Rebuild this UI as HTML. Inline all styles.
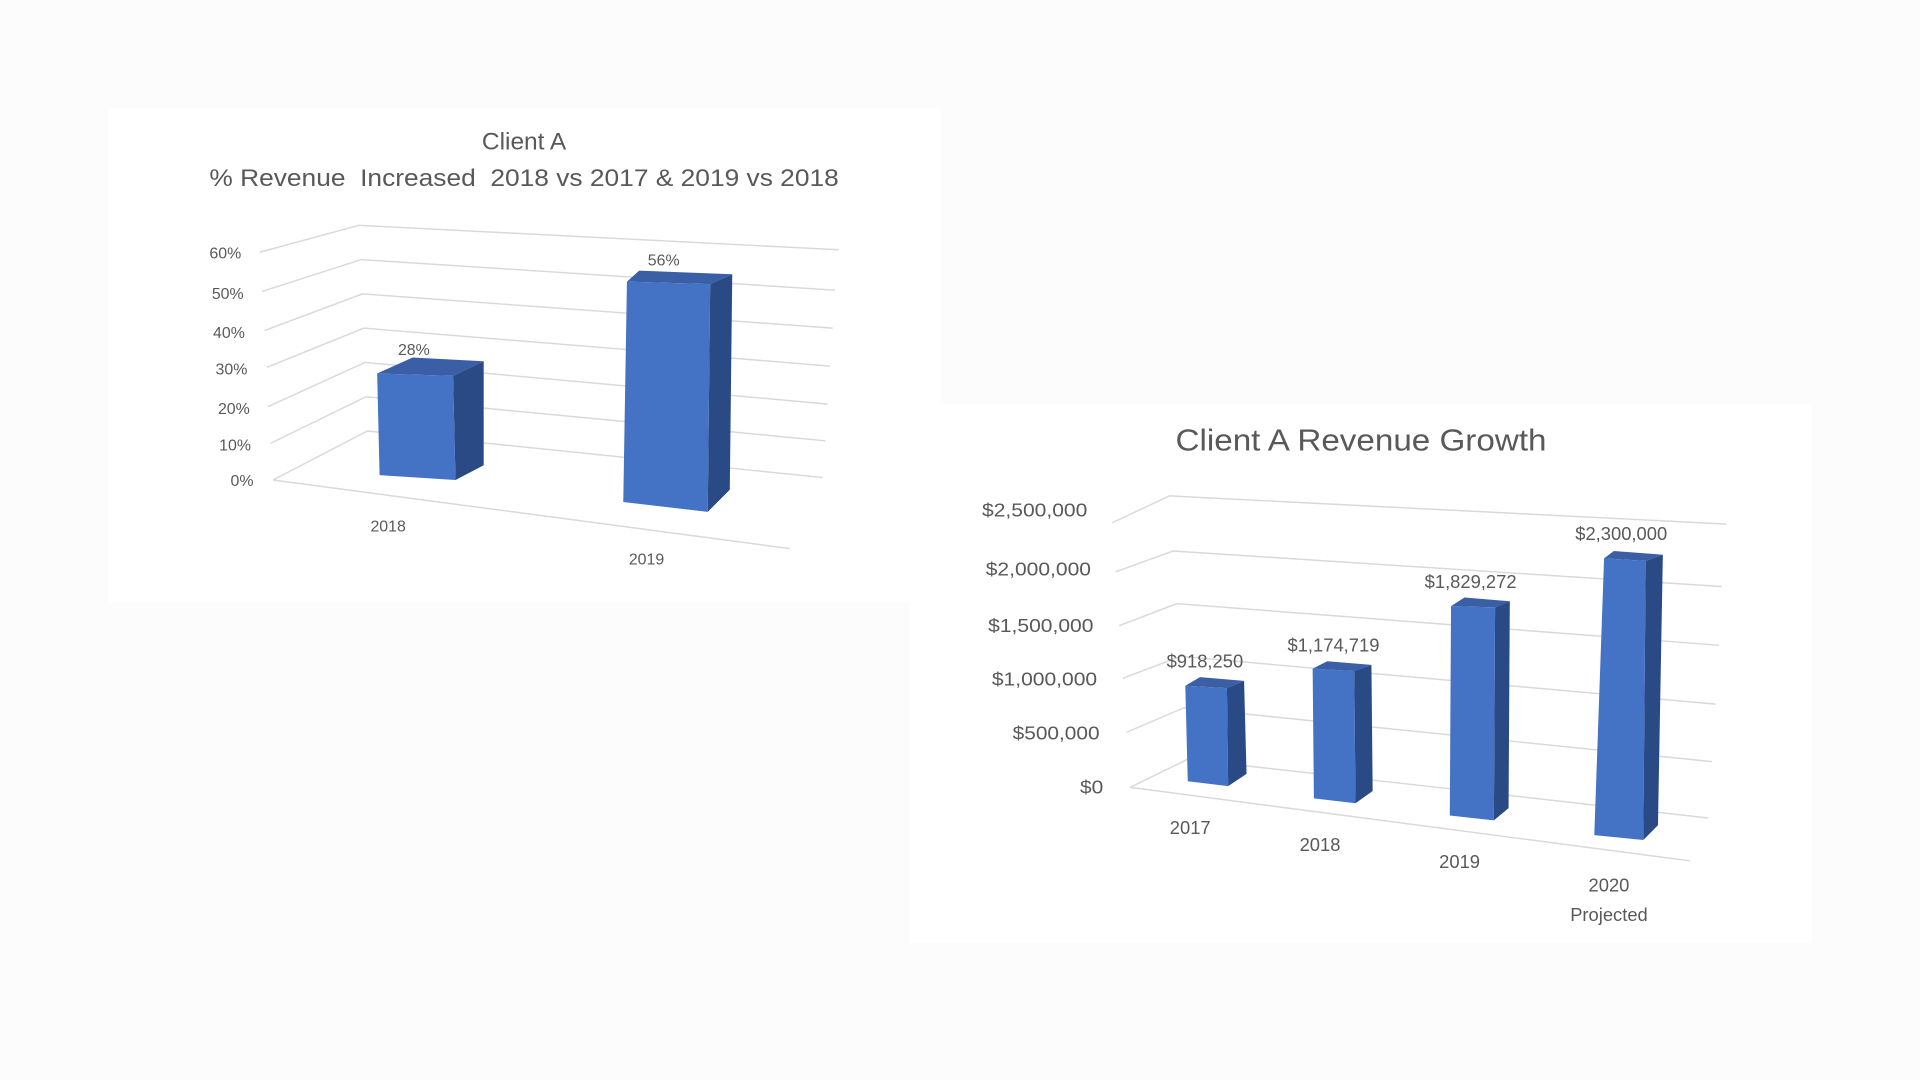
<!DOCTYPE html>
<html><head><meta charset="utf-8"><style>html,body{margin:0;padding:0;background:#fcfcfc;}svg{display:block}text{font-family:"Liberation Sans",sans-serif;fill:#595959}</style></head>
<body>
<svg width="1920" height="1080" viewBox="0 0 1568 882" preserveAspectRatio="none">
<rect x="0" y="0" width="1568" height="882" fill="#fcfcfc"/>
<rect x="88" y="88" width="680" height="404" fill="#fff"/>
<rect x="743" y="330" width="737" height="440" fill="#fff"/>
<!-- Chart 1 -->
<text x="428" y="122" font-size="20" text-anchor="middle">Client A</text>
<text x="171" y="152" font-size="20" textLength="514" lengthAdjust="spacingAndGlyphs" xml:space="preserve">% Revenue  Increased  2018 vs 2017 &amp; 2019 vs 2018</text>
<g stroke="#d9d9d9" stroke-width="1.2" fill="none">
<polyline points="212,206 293,184 685,204"/>
<polyline points="214,238 295,212 682,237"/>
<polyline points="216,270 296,240 680,268"/>
<polyline points="218,300 297,268 678,299"/>
<polyline points="219,332 298,296 676,330"/>
<polyline points="221,362 299,324 674,360"/>
<polyline points="223,392 300,352 672,390"/>
<line x1="223" y1="392" x2="645" y2="448"/>
</g>
<g font-size="13" text-anchor="end">
<text x="197" y="211">60%</text><text x="199" y="244">50%</text><text x="200" y="276">40%</text>
<text x="202" y="306">30%</text><text x="204" y="338">20%</text><text x="205" y="368">10%</text><text x="207" y="397">0%</text>
</g>
<polygon points="308,305 337,292 395,295 370,307" fill="#3a5fa6"/>
<polygon points="370,307 395,295 395,380 372,392" fill="#2a4a85"/>
<polygon points="308,305 370,307 372,392 310,388" fill="#4472c4"/>
<polygon points="512,230 522,221 598,224 580,232" fill="#3a5fa6"/>
<polygon points="580,232 598,224 596,400 578,418" fill="#2a4a85"/>
<polygon points="512,230 580,232 578,418 509,410" fill="#4472c4"/>
<text x="338" y="290" font-size="13" text-anchor="middle">28%</text>
<text x="542" y="217" font-size="13" text-anchor="middle">56%</text>
<text x="317" y="434" font-size="13" text-anchor="middle">2018</text>
<text x="528" y="461" font-size="13" text-anchor="middle">2019</text>
<!-- Chart 2 -->
<text x="960" y="368" font-size="25" textLength="303" lengthAdjust="spacingAndGlyphs">Client A Revenue Growth</text>
<g stroke="#d9d9d9" stroke-width="1.2" fill="none">
<polyline points="908,427 955,405 1410,428"/>
<polyline points="911,467 958,450 1406,479"/>
<polyline points="914,511 961,493 1404,527"/>
<polyline points="917,554 964,536 1401,575"/>
<polyline points="920,598 967,578 1398,622"/>
<polyline points="923,643 970,620 1395,668"/>
<line x1="923" y1="643" x2="1380" y2="703"/>
</g>
<g font-size="15">
<text x="802" y="422" textLength="86" lengthAdjust="spacingAndGlyphs">$2,500,000</text>
<text x="805" y="470" textLength="86" lengthAdjust="spacingAndGlyphs">$2,000,000</text>
<text x="807" y="516" textLength="86" lengthAdjust="spacingAndGlyphs">$1,500,000</text>
<text x="810" y="560" textLength="86" lengthAdjust="spacingAndGlyphs">$1,000,000</text>
<text x="827" y="604" textLength="71" lengthAdjust="spacingAndGlyphs">$500,000</text>
<text x="882" y="648" textLength="19" lengthAdjust="spacingAndGlyphs">$0</text>
</g>
<polygon points="968,560 980,553 1016,556 1002,562" fill="#3a5fa6"/>
<polygon points="1002,562 1016,556 1018,632 1003,642" fill="#2a4a85"/>
<polygon points="968,560 1002,562 1003,642 970,638" fill="#4472c4"/>
<polygon points="1072,546 1084,540 1120,543 1106,548" fill="#3a5fa6"/>
<polygon points="1106,548 1120,543 1121,646 1107,656" fill="#2a4a85"/>
<polygon points="1072,546 1106,548 1107,656 1073,652" fill="#4472c4"/>
<polygon points="1185,495 1196,488 1233,491 1221,496" fill="#3a5fa6"/>
<polygon points="1221,496 1233,491 1232,660 1220,670" fill="#2a4a85"/>
<polygon points="1185,495 1221,496 1220,670 1184,666" fill="#4472c4"/>
<polygon points="1310,456 1318,450 1358,453 1344,458" fill="#3a5fa6"/>
<polygon points="1344,458 1358,453 1354,674 1342,686" fill="#2a4a85"/>
<polygon points="1310,456 1344,458 1342,686 1302,682" fill="#4472c4"/>
<g font-size="15" text-anchor="middle">
<text x="984" y="545">$918,250</text><text x="1089" y="532">$1,174,719</text>
<text x="1201" y="480">$1,829,272</text><text x="1324" y="441">$2,300,000</text>
<text x="972" y="681">2017</text><text x="1078" y="695">2018</text><text x="1192" y="709">2019</text>
<text x="1314" y="728">2020</text><text x="1314" y="752">Projected</text>
</g>
</svg>
</body></html>
